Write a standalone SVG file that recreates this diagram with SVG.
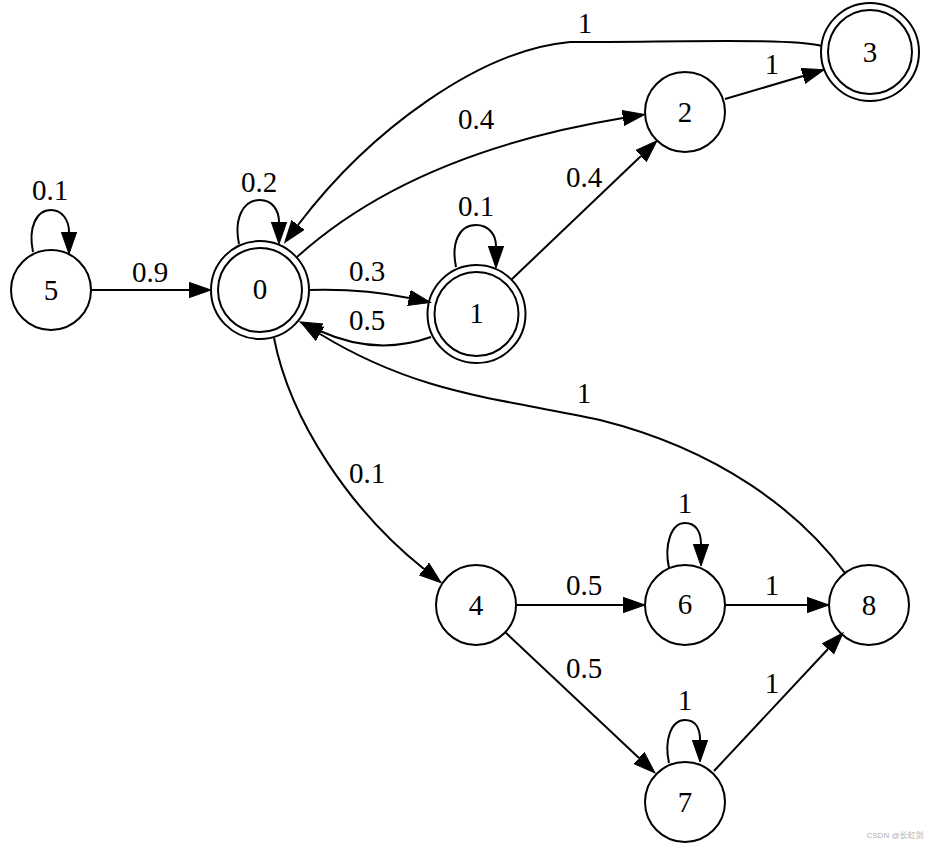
<svg xmlns="http://www.w3.org/2000/svg" width="934" height="850" viewBox="0 0 934 850">
<defs>
<style>
.n{fill:none;stroke:#000;stroke-width:2}
.e{fill:none;stroke:#000;stroke-width:2;marker-end:url(#ah)}
text{font-family:"Liberation Serif","Times New Roman",serif;font-size:29px;fill:#000;text-anchor:middle}
.wm{font-family:"Liberation Sans","Noto Sans CJK SC",sans-serif;font-size:8px;fill:#b0b0b0;text-anchor:middle}
</style>
<marker id="ah" markerUnits="userSpaceOnUse" markerWidth="24" markerHeight="18" refX="0" refY="8" orient="auto" viewBox="0 0 24 18">
<path d="M0,0.3 L22,8 L0,15.7 z" fill="#000" stroke="#000" stroke-width="1"/>
</marker>
</defs>
<rect x="0" y="0" width="934" height="850" fill="#fff"/>
<g id="edges">
<path class="e" d="M33 252 C28 228 36 210 51 210 C62 210 69 220 69 232"/>
<text x="50" y="200">0.1</text>
<path class="e" d="M91 290 L189 290"/>
<text x="150" y="282">0.9</text>
<path class="e" d="M239 244 C234 220 242 200 260 200 C272 200 279 210 279 222"/>
<text x="259" y="192">0.2</text>
<path class="e" d="M309 290 C340 289 375 291 409 298"/>
<text x="367" y="281">0.3</text>
<path class="e" d="M431 337 C400 348 362 350 320 331"/>
<text x="367" y="330">0.5</text>
<path class="e" d="M845 573 C800 512 720 450 600 420 C500 398 420 395 320 334"/>
<text x="584" y="403">1</text>
<path class="e" d="M297 257 C360 200 460 145 623 118"/>
<text x="476" y="129">0.4</text>
<path class="e" d="M511 280 L641 156"/>
<text x="584" y="187">0.4</text>
<path class="e" d="M456 267 C451 243 459 225 476 225 C488 225 496 234 496 246"/>
<text x="476" y="216">0.1</text>
<path class="e" d="M725 99 L803 76"/>
<text x="772" y="74">1</text>
<path class="e" d="M822 46 C790 38 680 42 570 42 C480 50 370 130 298 225"/>
<text x="585" y="33">1</text>
<path class="e" d="M274 338 C290 420 350 510 424 569"/>
<text x="367" y="483">0.1</text>
<path class="e" d="M516 605 L623 605"/>
<text x="584" y="595">0.5</text>
<path class="e" d="M505 632 L639 758"/>
<text x="584" y="678">0.5</text>
<path class="e" d="M669 568 C664 545 671 523 685 523 C696 523 701 532 701 544"/>
<text x="685" y="513">1</text>
<path class="e" d="M725 605 L807 605"/>
<text x="772" y="595">1</text>
<path class="e" d="M669 763 C664 740 671 720 685 720 C696 720 700 729 700 740"/>
<text x="685" y="710">1</text>
<path class="e" d="M714 771 L828 649"/>
<text x="772" y="693">1</text>
</g>
<g id="node5"><circle class="n" cx="51" cy="290" r="40"/><text x="51" y="300">5</text></g>
<g id="node0"><circle class="n" cx="260" cy="290" r="49"/><circle class="n" cx="260" cy="290" r="42"/><text x="260" y="299">0</text></g>
<g id="node1"><circle class="n" cx="476.5" cy="314" r="49"/><circle class="n" cx="476.5" cy="314" r="42"/><text x="476.5" y="323">1</text></g>
<g id="node2"><circle class="n" cx="685" cy="112" r="40"/><text x="685" y="122">2</text></g>
<g id="node3"><circle class="n" cx="870" cy="52" r="49"/><circle class="n" cx="870" cy="52" r="42"/><text x="870" y="62">3</text></g>
<g id="node4"><circle class="n" cx="476" cy="605" r="40"/><text x="476" y="615">4</text></g>
<g id="node6"><circle class="n" cx="685" cy="605" r="40"/><text x="685" y="614">6</text></g>
<g id="node7"><circle class="n" cx="685" cy="802" r="40"/><text x="685" y="812">7</text></g>
<g id="node8"><circle class="n" cx="869" cy="605" r="40"/><text x="869" y="615">8</text></g>
<text class="wm" x="895" y="838">CSDN @长虹剑</text>
</svg>
